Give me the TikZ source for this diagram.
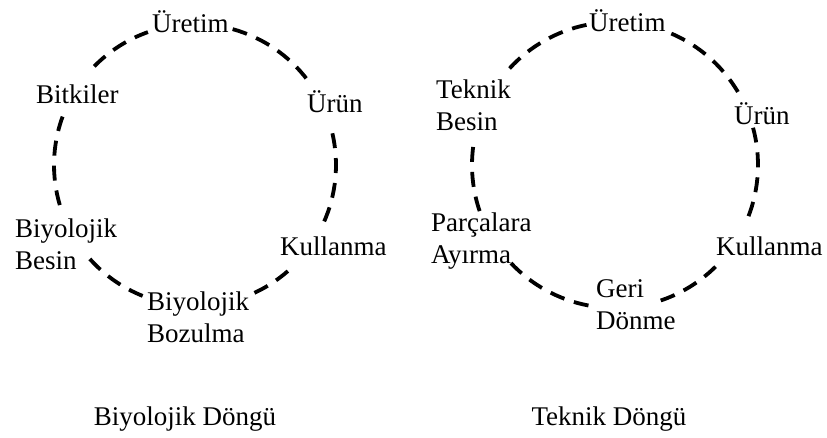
\documentclass[tikz,border=0pt]{standalone}
\usepackage{fontspec}
\setmainfont{Liberation Serif}
\begin{document}
\begin{tikzpicture}[x=1pt,y=-1pt,
  lbl/.style={inner sep=0pt,anchor=base west,font=\fontsize{27}{32}\selectfont},
  titlebox/.style={inner sep=0pt,anchor=base,font=\fontsize{27}{32}\selectfont},
  ring/.style={line width=3.8pt,dash pattern=on 15pt off 10pt}]
\fill[white] (0,0) rectangle (827,437);
\useasboundingbox (0,0) rectangle (827,437);

% centres of the two cycles
\coordinate (c1) at (195,165);
\coordinate (c2) at (615,165);

% ---- biological cycle ----
\node[lbl] (b-uretim) at (152,32) {Üretim};
\node[lbl] (b-urun) at (307,112) {Ürün};
\node[lbl] (b-kull) at (280,255) {Kullanma};
\node[lbl] (b-bozulma) at (147,310) {\begin{tabular}[t]{@{}l@{}}Biyolojik\\Bozulma\end{tabular}};
\node[lbl] (b-besin) at (15,237) {\begin{tabular}[t]{@{}l@{}}Biyolojik\\Besin\end{tabular}};
\node[lbl] (b-bitki) at (36,103) {Bitkiler};
\node[titlebox] (b-title) at (185,425) {Biyolojik Döngü};

\draw[ring] ([shift={(-74.5:141)}]c1) arc[start angle=-74.5,end angle=-37,radius=141];
\draw[ring] ([shift={(-13:141)}]c1) arc[start angle=-13,end angle=24.4,radius=141];
\draw[ring] ([shift={(48.8:141)}]c1) arc[start angle=48.8,end angle=66.7,radius=141];
\draw[ring] ([shift={(111.8:141)}]c1) arc[start angle=111.8,end angle=138.8,radius=141];
\draw[ring] ([shift={(163.5:141)}]c1) arc[start angle=163.5,end angle=200.6,radius=141];
\draw[ring] ([shift={(224.4:141)}]c1) arc[start angle=224.4,end angle=250.5,radius=141];

% ---- technical cycle ----
\node[lbl] (t-uretim) at (589,31) {Üretim};
\node[lbl] (t-urun) at (734,124) {Ürün};
\node[lbl] (t-kull) at (716,255) {Kullanma};
\node[lbl] (t-geri) at (596,297) {\begin{tabular}[t]{@{}l@{}}Geri\\Dönme\end{tabular}};
\node[lbl] (t-parca) at (431,231) {\begin{tabular}[t]{@{}l@{}}Parçalara\\Ayırma\end{tabular}};
\node[lbl] (t-besin) at (436,98) {\begin{tabular}[t]{@{}l@{}}Teknik\\Besin\end{tabular}};
\node[titlebox] (t-title) at (609,425) {Teknik Döngü};

\draw[ring] ([shift={(-66.8:143)}]c2) arc[start angle=-66.8,end angle=-28.4,radius=143];
\draw[ring] ([shift={(-15.1:143)}]c2) arc[start angle=-15.1,end angle=21.2,radius=143];
\draw[ring] ([shift={(45.3:143)}]c2) arc[start angle=45.3,end angle=72.2,radius=143];
\draw[ring] ([shift={(100.7:143)}]c2) arc[start angle=100.7,end angle=136.7,radius=143];
\draw[ring] ([shift={(161.2:143)}]c2) arc[start angle=161.2,end angle=187.9,radius=143];
\draw[ring] ([shift={(222.5:143)}]c2) arc[start angle=222.5,end angle=258.5,radius=143];
\end{tikzpicture}
\end{document}
